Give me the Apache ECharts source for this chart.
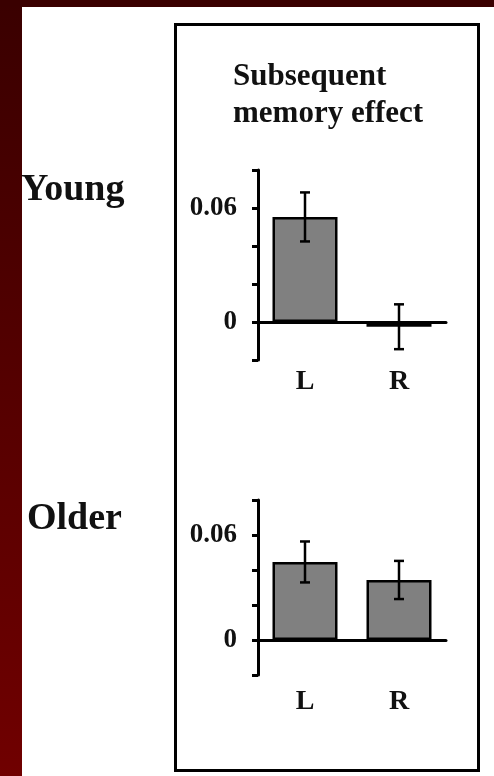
<!DOCTYPE html>
<html>
<head>
<meta charset="utf-8">
<script src="https://cdn.jsdelivr.net/npm/echarts@6/dist/echarts.min.js"></script>
<style>
html,body{margin:0;padding:0;background:#fff;}
#c{width:494px;height:776px;}
</style>
</head>
<body>
<div id="c"></div>
<script>
const categories = ['L', 'R'];
const youngValues = [0.0553, -0.0025];
const youngErrors = [0.0129, 0.0118];
const olderValues = [0.0446, 0.0343];
const olderErrors = [0.0117, 0.0109];
const yMin = -0.02, yMax = 0.08, yStep = 0.02;
const yShownTicks = [0, 0.06];
const titleLines = ['Subsequent', 'memory effect'];
const groupLabels = ['Young', 'Older'];

const FONT = '"Liberation Serif", "Times New Roman", serif';

function yLabel(v) {
  return yShownTicks.some(t => Math.abs(t - v) < 1e-9) ? String(+v.toFixed(2)) : '';
}

function errRender(params, api) {
  const i = api.value(0), v = api.value(1), e = api.value(2);
  const hi = api.coord([i, v + e]);
  const lo = api.coord([i, v - e]);
  const hw = 5;
  const st = { stroke: '#000', lineWidth: 2.5 };
  return {
    type: 'group',
    children: [
      { type: 'line', shape: { x1: hi[0], y1: hi[1], x2: lo[0], y2: lo[1] }, style: st },
      { type: 'line', shape: { x1: hi[0] - hw, y1: hi[1], x2: hi[0] + hw, y2: hi[1] }, style: st },
      { type: 'line', shape: { x1: lo[0] - hw, y1: lo[1], x2: lo[0] + hw, y2: lo[1] }, style: st }
    ]
  };
}

const grids = [
  { left: 258, right: 48, top: 170, height: 190 },
  { left: 258, right: 48, top: 500, height: 175 }
];

function xAx(idx, margin) {
  return {
    type: 'category', gridIndex: idx, data: categories,
    axisLine: { onZero: true, lineStyle: { color: '#000', width: 3 } },
    axisTick: { show: false },
    axisLabel: { color: '#111', fontFamily: FONT, fontWeight: 'bold', fontSize: 28, margin: margin }
  };
}
function yAx(idx) {
  return {
    type: 'value', gridIndex: idx, min: yMin, max: yMax, interval: yStep,
    splitLine: { show: false },
    axisLine: { show: true, lineStyle: { color: '#000', width: 3 } },
    axisTick: { show: true, length: 6, lineStyle: { color: '#000', width: 3 } },
    axisLabel: { formatter: yLabel, color: '#111', fontFamily: FONT, fontWeight: 'bold', fontSize: 27, margin: 21 }
  };
}

const barStyle = { color: '#808080', borderColor: '#000', borderWidth: 2.5 };

const option = {
  backgroundColor: '#fff',
  animation: false,
  grid: grids,
  xAxis: [xAx(0, 8), xAx(1, 13)],
  yAxis: [yAx(0), yAx(1)],
  series: [
    { type: 'bar', xAxisIndex: 0, yAxisIndex: 0, data: youngValues, barWidth: 65, itemStyle: barStyle, z: 2 },
    { type: 'bar', xAxisIndex: 1, yAxisIndex: 1, data: olderValues, barWidth: 65, itemStyle: barStyle, z: 2 },
    { type: 'custom', xAxisIndex: 0, yAxisIndex: 0, renderItem: errRender, encode: { x: 0, y: 1 },
      data: youngValues.map((v, i) => [i, v, youngErrors[i]]), z: 5 },
    { type: 'custom', xAxisIndex: 1, yAxisIndex: 1, renderItem: errRender, encode: { x: 0, y: 1 },
      data: olderValues.map((v, i) => [i, v, olderErrors[i]]), z: 5 }
  ],
  graphic: [
    { type: 'rect', shape: { x: 0, y: 0, width: 22, height: 776 }, silent: true,
      style: { fill: { type: 'linear', x: 0, y: 0, x2: 0, y2: 1,
        colorStops: [{ offset: 0, color: '#3a0000' }, { offset: 1, color: '#700000' }] } } },
    { type: 'rect', shape: { x: 0, y: 0, width: 494, height: 7 }, silent: true, style: { fill: '#3a0000' } },
    { type: 'rect', shape: { x: 175.5, y: 24.5, width: 303, height: 746 }, silent: true,
      style: { fill: 'none', stroke: '#000', lineWidth: 3 } },
    { type: 'text', x: 233, y: 92, silent: true,
      style: { text: titleLines[0], font: 'bold 31px ' + FONT, fill: '#111', textVerticalAlign: 'bottom' } },
    { type: 'text', x: 233, y: 129, silent: true,
      style: { text: titleLines[1], font: 'bold 31px ' + FONT, fill: '#111', textVerticalAlign: 'bottom' } },
    { type: 'text', x: 21, y: 209, silent: true,
      style: { text: groupLabels[0], font: 'bold 38px ' + FONT, fill: '#111', textVerticalAlign: 'bottom' } },
    { type: 'text', x: 27, y: 538, silent: true,
      style: { text: groupLabels[1], font: 'bold 38px ' + FONT, fill: '#111', textVerticalAlign: 'bottom' } }
  ]
};

const chart = echarts.init(document.getElementById('c'), null, { renderer: 'canvas' });
chart.setOption(option);
</script>
</body>
</html>
